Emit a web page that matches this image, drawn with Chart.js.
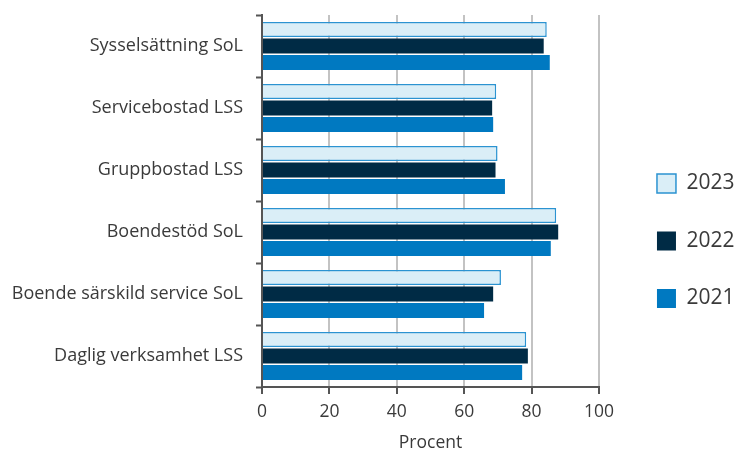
<!DOCTYPE html>
<html>
<head>
<meta charset="utf-8">
<script src="https://cdn.jsdelivr.net/npm/chart.js@4"></script>
<style>
  html, body { margin: 0; padding: 0; background: #fff; }
  #wrap { width: 736px; height: 454px; }
</style>
</head>
<body>
<div id="wrap"><canvas id="chart"></canvas></div>
<script>
// Andel (procent) per insats och år
const categories = [
    'Sysselsättning SoL',
    'Servicebostad LSS',
    'Gruppbostad LSS',
    'Boendestöd SoL',
    'Boende särskild service SoL',
    'Daglig verksamhet LSS'
];
const years = ['2023', '2022', '2021'];
const values2023 = [84.5, 69.5, 69.9, 87.3, 70.9, 78.4];
const values2022 = [83.6, 68.3, 69.3, 87.9, 68.6, 78.9];
const values2021 = [85.4, 68.6, 72.1, 85.7, 65.9, 77.2];
const xTicks = [0, 20, 40, 60, 80, 100];

const colors = {
    y2023: '#daeef7',
    y2023Border: '#2b93d1',
    y2022: '#002b45',
    y2021: '#0079c1',
    grid: '#c3c3c3',
    axis: '#555555',
    text: '#3a3a3a'
};

Chart.defaults.font.family = '"Open Sans", sans-serif';
Chart.defaults.color = colors.text;

// flytta legenden lite åt höger och nedåt
const legendShift = {
    id: 'legendShift',
    afterLayout(chart) {
        const lg = chart.legend;
        if (!lg) return;
        lg.left += 21.5;
        lg.right += 21.5;
        lg.top += 6.5;
        lg.bottom += 6.5;
    }
};

const ctx = document.getElementById('chart').getContext('2d');
new Chart(ctx, {
    type: 'bar',
    data: {
        labels: categories,
        datasets: [
            {
                label: years[0],
                data: values2023,
                backgroundColor: colors.y2023,
                borderColor: colors.y2023Border,
                borderWidth: 1.5
            },
            {
                label: years[1],
                data: values2022,
                backgroundColor: colors.y2022,
                borderWidth: 0
            },
            {
                label: years[2],
                data: values2021,
                backgroundColor: colors.y2021,
                borderWidth: 0
            }
        ]
    },
    plugins: [legendShift],
    options: {
        indexAxis: 'y',
        responsive: true,
        maintainAspectRatio: false,
        animation: false,
        categoryPercentage: 0.8,
        barPercentage: 0.9,
        layout: {
            padding: { top: 15, left: 0, right: 13, bottom: 0 }
        },
        plugins: {
            legend: {
                position: 'right',
                labels: {
                    boxWidth: 19,
                    boxHeight: 19,
                    padding: 36.5,
                    font: { size: 21 },
                    color: colors.text
                }
            },
            tooltip: { enabled: false }
        },
        scales: {
            x: {
                min: 0,
                max: 100,
                afterBuildTicks: function(scale) {
                    scale.ticks = xTicks.map(v => ({ value: v }));
                },
                grid: {
                    color: colors.grid,
                    lineWidth: 2,
                    tickColor: colors.axis,
                    tickLength: 7,
                    tickWidth: 2
                },
                border: { color: colors.axis, width: 2 },
                ticks: {
                    font: { size: 17.5 },
                    color: colors.text,
                    padding: 8
                },
                title: {
                    display: true,
                    text: 'Procent',
                    font: { size: 17.5 },
                    color: colors.text,
                    padding: { top: 2, bottom: 0 }
                }
            },
            y: {
                afterFit: function(scale) {
                    scale.width = 262;
                    scale.paddingTop = 0;
                    scale.paddingBottom = 0;
                },
                grid: {
                    offset: true,
                    drawOnChartArea: false,
                    tickColor: colors.axis,
                    tickLength: 6,
                    tickWidth: 2
                },
                border: { color: colors.axis, width: 2 },
                ticks: {
                    font: { size: 18 },
                    color: colors.text,
                    padding: 13
                }
            }
        }
    }
});
</script>
</body>
</html>
